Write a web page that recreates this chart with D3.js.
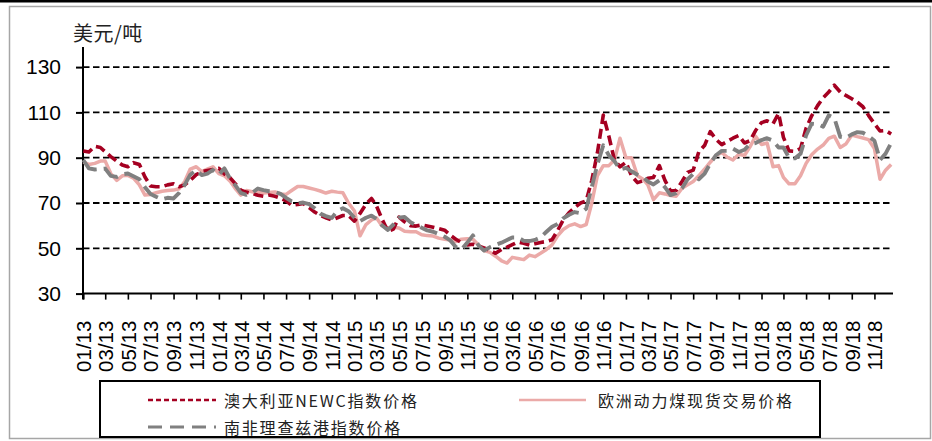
<!DOCTYPE html>
<html>
<head>
<meta charset="utf-8">
<script src="https://cdn.jsdelivr.net/npm/d3@7"></script>
<style>
  html, body { margin: 0; padding: 0; background: #fff; }
  svg { display: block; }
</style>
</head>
<body>
<svg id="chart" width="932" height="441"></svg>
<script>
// Half-monthly coal price indices, USD per tonne, Jan 2013 – Dec 2018
const newcPrice = [
  93, 92.5, 95, 94.5, 92.6, 90.5, 88.5, 86.8, 86, 87.8, 87, 81.5,
  77.5, 77.2, 77.2, 78, 78.5, 77.2, 78, 80, 82.5, 83.8, 84.3, 84.8,
  85.3, 82.8, 81, 78.2, 75.7, 74.8, 74.2, 73.4, 73, 73.5, 73, 72.1,
  71, 69, 69.3, 69.8, 68, 66, 64.5, 63.5, 62.5, 63.5, 64.5, 64.5,
  62, 65.4, 69.5, 72, 68.8, 63, 57.5, 58.5, 63.8, 61.7, 60, 59.8,
  60.3, 59.8, 59.3, 58.7, 58, 55.8, 54, 52.5, 51.5, 51.8, 51, 50.2,
  49, 47.8, 49.5, 50.5, 51.6, 52.8, 52.2, 51.4, 52, 52.6, 53, 53.8,
  57.8, 62.5, 65.8, 68, 70, 71, 80, 92, 108.8, 99.5, 89, 86,
  88, 82, 79, 79.8, 80.9, 81.3, 86.5, 80, 75.3, 75.5, 79.5, 83.5,
  84.5, 92.5, 95.5, 101.5, 98, 95.8, 97.2, 98.6, 99.8, 96.5, 97.5, 102,
  105.5, 106.3, 105, 109.6, 99, 93, 92.8, 94, 103, 108.5, 113, 116.5,
  119, 122, 119, 117.5, 116, 114.5, 112.5, 108.7, 105, 101.8, 102, 100.5
];
const euroPrice = [
  88, 87, 87.5, 88.5, 88.5, 83, 80, 82, 82.2, 81, 78, 73.5,
  73.8, 74.5, 75.2, 75.5, 75.7, 76.3, 79.5, 85, 86, 83.9, 85, 86,
  83, 82, 79.5, 76, 73.5, 75.5, 75, 74.7, 74.4, 74.6, 74.9, 74,
  73.8, 75.5, 77.3, 77.3, 76.6, 76, 75.3, 74.4, 75.2, 74.8, 74.5, 70,
  66.5, 55.5, 60.5, 62.5, 63.5, 60, 59, 59.3, 59, 57.5, 57.3, 57.3,
  56, 55.6, 55.4, 54.5, 54, 53.7, 53, 54, 54.2, 54, 51.5, 49,
  48.2, 46.5, 44.5, 43.5, 46, 45.5, 45, 47, 46.3, 47.8, 49.5, 51.5,
  55.5, 58.3, 60, 60.8, 59.6, 60.5, 70, 82, 86.5, 86.5, 89, 98.6,
  90, 90, 82, 80.5, 78, 71.5, 74.5, 74, 73.3, 73, 76.5, 78,
  79.5, 82, 85, 88, 91, 92.3, 90.2, 89, 91.5, 91, 94.8, 99.5,
  95.8, 96.5, 86, 86.5, 81.3, 78.5, 78.5, 82, 87.5, 91.3, 93.8, 95.6,
  98.5, 99.5, 94.5, 96, 100, 99.3, 98.7, 98, 94, 80.5, 84.5, 87
];
const rbctPrice = [
  89, 85.3, 84.8, 85, 85.2, 82, 81.5, 82.7, 83, 81.8, 80.5, 77,
  74, 72.8, 71.6, 72.3, 72, 74.5, 78, 82.5, 84.5, 82.3, 83, 84.6,
  82.5, 85.3, 80.5, 77.5, 74.5, 73.6, 74.5, 76.4, 75.7, 75.2, 74.9, 74,
  72.3, 70.7, 69.9, 70.2, 69.5, 67.7, 65.3, 64.2, 63.4, 66.5, 67.7, 66.4,
  63.5, 62, 63.5, 64.4, 63, 60.2, 58.1, 60.5, 63.5, 63.8, 61.5, 60.3,
  59.1, 57.9, 57.3, 56.3, 55.1, 53.5, 50.6, 49.5, 52.5, 55.7, 51.3, 49,
  50.5, 51.5, 52.5, 53.7, 54.8, 54.8, 53.3, 53.2, 53.7, 54.8, 57.3, 59.5,
  60.7, 63.2, 64.8, 66, 65.5, 67.5, 77, 87, 95.5, 91, 88.5, 84.8,
  85.5, 84, 82.5, 81.5, 79.5, 78.2, 80, 77, 73.5, 74.3, 76.5, 80.5,
  82.8, 80.5, 83, 87.5, 91.2, 93, 93, 94, 92.5, 93.5, 96, 96.5,
  97.8, 98.6, 97.5, 94.5, 94.5, 90, 89.7, 91.7, 99.8, 105, 104.8, 103.7,
  108.7, 107.5, 99.2, 98.7, 100.3, 101.3, 101, 99.5, 97.5, 89, 91.8, 96.5
];

const seriesNames = ["澳大利亚NEWC指数价格", "欧洲动力煤现货交易价格", "南非理查兹港指数价格"];
const yTicks = [30, 50, 70, 90, 110, 130];
const xTickLabels = [
  "01/13","03/13","05/13","07/13","09/13","11/13",
  "01/14","03/14","05/14","07/14","09/14","11/14",
  "01/15","03/15","05/15","07/15","09/15","11/15",
  "01/16","03/16","05/16","07/16","09/16","11/16",
  "01/17","03/17","05/17","07/17","09/17","11/17",
  "01/18","03/18","05/18","07/18","09/18","11/18"
];
const unitLabel = "美元/吨";

// Observation dates: 1st and 16th of every month
const obsDates = d3.timeMonth.range(new Date(2013, 0, 1), new Date(2019, 0, 1))
  .flatMap(d => [d, d3.timeDay.offset(d, 15)]);
const tickDates = xTickLabels.map(s => d3.timeParse("%m/%y")(s));

const svg = d3.select("#chart");
const W = 932, H = 441;

// page frame
svg.append("rect").attr("x", 9.5).attr("y", 6.5).attr("width", 921).attr("height", 432)
  .attr("fill", "none").attr("stroke", "#a6a6a6").attr("stroke-width", 1.5);
svg.append("rect").attr("x", 0).attr("y", 0).attr("width", W).attr("height", 2.5).attr("fill", "#000");

const x = d3.scaleTime()
  .domain([new Date(2013, 0, 1), new Date(2018, 11, 21)])
  .range([83.3, 893]);
const y = d3.scaleLinear().domain([30, 130]).range([293.6, 67.1]);

// dashed gridlines
svg.append("g").selectAll("line")
  .data(yTicks.filter(v => v > 30))
  .join("line")
  .attr("x1", 83).attr("x2", 893)
  .attr("y1", d => y(d)).attr("y2", d => y(d))
  .attr("stroke", "#000").attr("stroke-width", 1.8)
  .attr("stroke-dasharray", "6.5,3.5");

// y axis
const yAxis = svg.append("g")
  .attr("transform", "translate(83,0)")
  .call(d3.axisLeft(y).tickValues(yTicks).tickSize(7).tickPadding(15).tickFormat(d3.format("d")));
yAxis.select(".domain").attr("d", `M0,${y(30) + 6}V47`).attr("stroke-width", 2).attr("stroke", "#000");
yAxis.selectAll(".tick line").attr("stroke-width", 2).attr("stroke", "#000");
yAxis.selectAll(".tick text")
  .attr("font-family", "'Liberation Sans', Arial, sans-serif")
  .attr("font-size", 21).attr("fill", "#000");

// x axis
const xAxis = svg.append("g")
  .attr("transform", `translate(0,${y(30)})`)
  .call(d3.axisBottom(x).tickValues(tickDates).tickSize(6).tickFormat((d, i) => xTickLabels[i]));
xAxis.select(".domain").attr("d", `M83,0H893`).attr("stroke-width", 2).attr("stroke", "#000");
xAxis.selectAll(".tick line").attr("stroke-width", 1.6).attr("stroke", "#000");
xAxis.selectAll(".tick text")
  .attr("font-family", "'Liberation Sans', Arial, sans-serif")
  .attr("font-size", 20.5).attr("fill", "#000")
  .attr("text-anchor", "end")
  .attr("transform", "translate(0,27) rotate(-90)")
  .attr("x", 0).attr("y", 0).attr("dy", "0.36em");

// unit label
svg.append("text").attr("x", 73).attr("y", 41)
  .attr("font-family", "'Noto Sans CJK SC', sans-serif")
  .attr("font-size", 20).attr("letter-spacing", 0.5).attr("fill", "#222")
  .text(unitLabel);

// price lines
const styles = [
  { color: "#A50021", width: 3.6, dash: "10,5", legendDash: "5,3", legendWidth: 2.6 },
  { color: "#EBAAA8", width: 3.5, dash: null, legendDash: null, legendWidth: 2.6 },
  { color: "#808080", width: 3.9, dash: "18,7", legendDash: "14,8", legendWidth: 3 }
];
const seriesValues = [newcPrice, euroPrice, rbctPrice];
const line = d3.line().x((d, i) => x(obsDates[i])).y(d => y(d)).curve(d3.curveLinear);

const drawOrder = [1, 0, 2];
svg.append("g").selectAll("path")
  .data(drawOrder)
  .join("path")
  .attr("d", i => line(seriesValues[i]))
  .attr("fill", "none")
  .attr("stroke", i => styles[i].color)
  .attr("stroke-width", i => styles[i].width)
  .attr("stroke-linejoin", "round")
  .attr("stroke-dasharray", i => styles[i].dash);

// legend
const lg = svg.append("g");
const legendItems = [
  { s: 0, x1: 148, x2: 216, ty: 400, tx: 224 },
  { s: 1, x1: 519, x2: 586, ty: 400, tx: 598 },
  { s: 2, x1: 148, x2: 216, ty: 427, tx: 224 }
];
legendItems.forEach(it => {
  const st = styles[it.s];
  lg.append("line").attr("x1", it.x1).attr("x2", it.x2).attr("y1", it.ty).attr("y2", it.ty)
    .attr("stroke", st.color).attr("stroke-width", st.legendWidth)
    .attr("stroke-dasharray", st.legendDash);
  lg.append("text").attr("x", it.tx).attr("y", it.ty + 7)
    .attr("font-family", "'Noto Sans CJK SC', sans-serif")
    .attr("font-size", 16).attr("letter-spacing", 1.8).attr("fill", "#222")
    .text(seriesNames[it.s]);
});
lg.append("rect").attr("x", 100).attr("y", 381).attr("width", 720).attr("height", 56)
  .attr("fill", "none").attr("stroke", "#000").attr("stroke-width", 2);
</script>
</body>
</html>
